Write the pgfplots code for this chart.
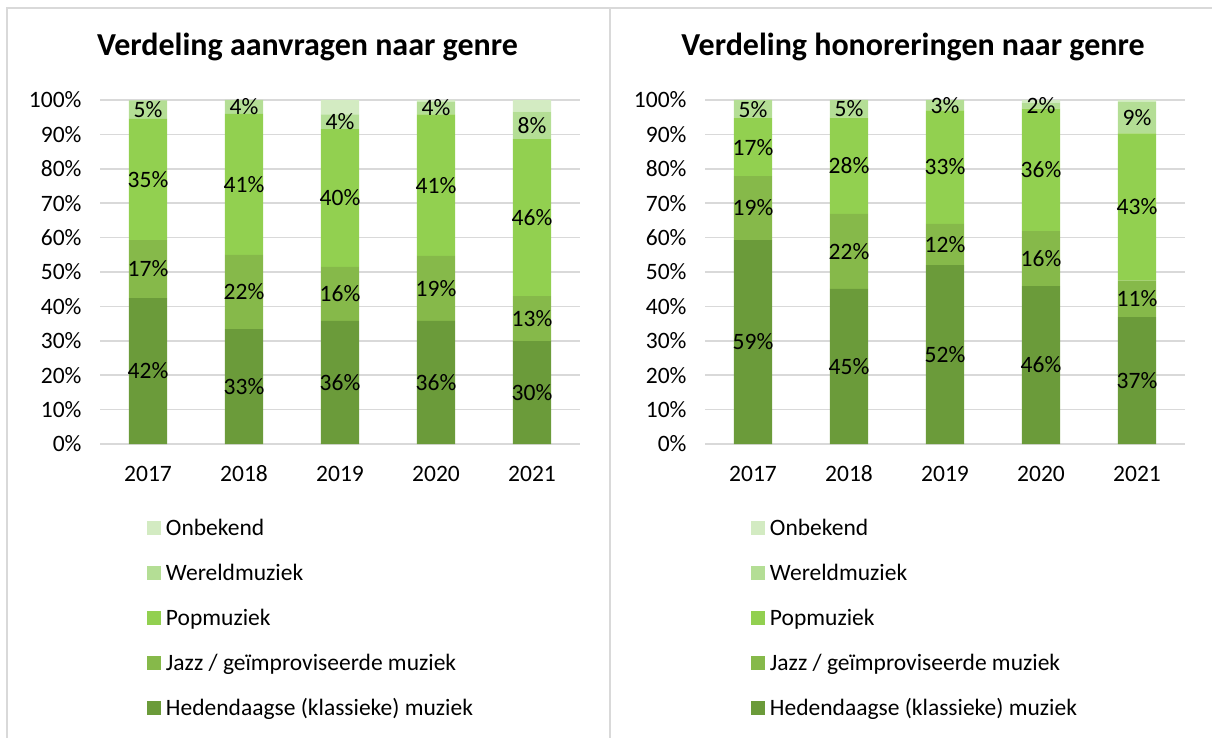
\documentclass[border=0pt]{standalone}
\usepackage{pgfplots}
\pgfplotsset{compat=1.18}
\usepackage{pgfplotstable}
\usepackage{fontspec}
\setmainfont{Carlito}
\definecolor{cHed}{HTML}{6B9B3A}
\definecolor{cJazz}{HTML}{86B94A}
\definecolor{cPop}{HTML}{92D050}
\definecolor{cWer}{HTML}{B4DE95}
\definecolor{cOnb}{HTML}{D3EBC2}
\definecolor{cGrid}{HTML}{D9D9D9}

\pgfplotstableread{
x hed jazz pop wer onb
0 42.4 16.9 35.2 5.4 0.0
1 33.4 21.6 41.0 4.0 0.0
2 35.8 15.7 40.0 4.3 4.2
3 35.8 18.9 41.1 3.7 0.5
4 29.9 13.1 45.6 8.0 3.4
}\dataA
\pgfplotstableread{
x hed jazz pop wer onb
0 59.3 18.6 16.8 5.3 0.0
1 45.1 21.8 28.0 5.1 0.0
2 52.0 12.0 33.0 3.0 0.0
3 45.9 16.0 35.6 1.7 0.8
4 36.9 10.6 42.8 9.2 0.5
}\dataB

\newcommand{\fsz}{\fontsize{23.5bp}{28bp}\selectfont}

\pgfplotsset{
  genre/.style={
    ybar stacked, bar width=0.4,
    x=96bp, y=3.44bp,
    xmin=-0.5, xmax=4.5, ymin=0, ymax=100,
    xtick={0,...,4}, xticklabels={2017,2018,2019,2020,2021},
    ytick={0,10,...,100},
    yticklabel={\pgfmathprintnumber{\tick}\%},
    /pgf/number format/assume math mode=true,
    ymajorgrids, grid style={cGrid, line width=1.5bp},
    axis line style={draw=none},
    major tick length=0pt,
    tick label style={font=\fsz, text=black},
    yticklabel style={xshift=-15bp},
    xticklabel style={yshift=-19bp, text height=15bp, text depth=0pt},
    clip=false,
    reverse legend,
    legend cell align=left,
    legend style={draw=none, fill=none, anchor=north west, inner sep=0pt, outer sep=0pt,
      font=\fsz, row sep=23bp, column sep=5bp,
      nodes={inner sep=0pt, text height=17bp, text depth=5bp}},
  },
  seg/.style={fill=#1, draw=none,
    legend image code/.code={\fill[#1] (0bp,-5bp) rectangle (14bp,9bp);}},
  lab/.style={
    nodes near coords={\pgfmathprintnumber[fixed,precision=0]{\rawy}\%},
    visualization depends on={\thisrow{#1} \as \rawy},
    every node near coord/.append style={anchor=center, font=\fsz, text=black},
  },
}

\begin{document}
\begin{tikzpicture}
\draw[cGrid, line width=1.5bp] (7bp,0bp) -- (7bp,730bp) -- (1212bp,730bp);
\draw[cGrid, line width=1.5bp] (610bp,0bp) -- (610bp,730bp);

\node[anchor=base, font=\fontsize{32bp}{38bp}\selectfont\bfseries] at (307.5bp,682bp) {Verdeling aanvragen naar genre};
\node[anchor=base, font=\fontsize{32bp}{38bp}\selectfont\bfseries] at (913bp,682bp) {Verdeling honoreringen naar genre};

\begin{axis}[genre, at={(100bp,294bp)}, anchor=south west,
  legend style={at={(0.0979,-0.2180)}}]
\addplot+[seg=cHed, lab=hed] table[x=x, y=hed] {\dataA};
\addplot+[seg=cJazz, lab=jazz] table[x=x, y=jazz] {\dataA};
\addplot+[seg=cPop, lab=pop] table[x=x, y=pop] {\dataA};
\addplot+[seg=cWer, lab=wer] table[x=x, y=wer] {\dataA};
\addplot+[seg=cOnb] table[x=x, y=onb] {\dataA};
\legend{Hedendaagse (klassieke) muziek, Jazz / geïmproviseerde muziek, Popmuziek, Wereldmuziek, Onbekend}
\end{axis}

\begin{axis}[genre, at={(705bp,294bp)}, anchor=south west,
  legend style={at={(0.0958,-0.2180)}}]
\addplot+[seg=cHed, lab=hed] table[x=x, y=hed] {\dataB};
\addplot+[seg=cJazz, lab=jazz] table[x=x, y=jazz] {\dataB};
\addplot+[seg=cPop, lab=pop] table[x=x, y=pop] {\dataB};
\addplot+[seg=cWer, lab=wer] table[x=x, y=wer] {\dataB};
\addplot+[seg=cOnb] table[x=x, y=onb] {\dataB};
\legend{Hedendaagse (klassieke) muziek, Jazz / geïmproviseerde muziek, Popmuziek, Wereldmuziek, Onbekend}
\end{axis}

\pgfresetboundingbox
\useasboundingbox (0bp,0bp) rectangle (1212bp,738bp);
\end{tikzpicture}
\end{document}
